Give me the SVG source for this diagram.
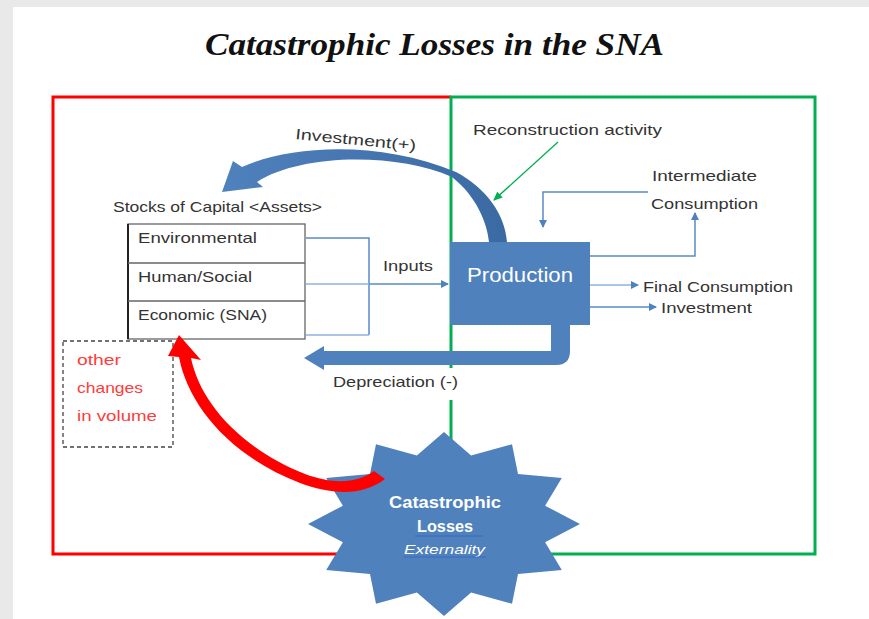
<svg xmlns="http://www.w3.org/2000/svg" width="869" height="619" viewBox="0 0 869 619">
<style>
.lbl{font-family:"Liberation Sans",Arial,sans-serif;font-size:15px;fill:#333}
.red{fill:#ff3b3b}
.wt{fill:#fff;font-family:"Liberation Sans",Arial,sans-serif}
.thin{fill:none;stroke:#5b8bc8;stroke-width:1.5}
.lite{fill:none;stroke:#8db3e2;stroke-width:1.5}
</style>
<defs>
<marker id="ab" markerWidth="8" markerHeight="8" refX="7" refY="4" orient="auto" markerUnits="userSpaceOnUse"><path d="M0,0 L8,4 L0,8 Z" fill="#4f81bd"/></marker>
<marker id="ag" markerWidth="9" markerHeight="8" refX="8" refY="4" orient="auto" markerUnits="userSpaceOnUse"><path d="M0,0 L9,4 L0,8 Z" fill="#00b050"/></marker>
<linearGradient id="ig" x1="0" y1="0" x2="1" y2="0"><stop offset="0" stop-color="#4f81bd"/><stop offset="1" stop-color="#3b6aa3"/></linearGradient>
</defs>
<rect width="869" height="619" fill="#e9e9e9"/>
<rect x="13" y="7" width="856" height="612" fill="#fff"/>
<text x="205" y="55" font-family="'Liberation Serif',serif" font-size="32" font-weight="bold" font-style="italic" fill="#111" textLength="459" lengthAdjust="spacingAndGlyphs">Catastrophic Losses in the SNA</text>

<g id="frames">
<path d="M451,97 H53 V554 H451" fill="none" stroke="#ff0000" stroke-width="3"/>
<rect x="451" y="97" width="364" height="457" fill="none" stroke="#00b050" stroke-width="3"/>
</g>

<g id="stocks">
<text class="lbl" x="113" y="212" textLength="209" lengthAdjust="spacingAndGlyphs">Stocks of Capital &lt;Assets&gt;</text>
<rect x="128" y="224" width="177" height="115" fill="#fff" stroke="#666" stroke-width="1.3"/>
<line x1="128" y1="224" x2="128" y2="339" stroke="#222" stroke-width="2"/>
<line x1="128" y1="263" x2="305" y2="263" stroke="#666" stroke-width="1.3"/>
<line x1="128" y1="301" x2="305" y2="301" stroke="#666" stroke-width="1.3"/>
<text class="lbl" x="138" y="243" textLength="119" lengthAdjust="spacingAndGlyphs">Environmental</text>
<text class="lbl" x="138" y="282" textLength="114" lengthAdjust="spacingAndGlyphs">Human/Social</text>
<text class="lbl" x="138" y="320" textLength="129" lengthAdjust="spacingAndGlyphs">Economic (SNA)</text>
</g>

<g id="other-changes">
<rect x="63" y="341" width="110" height="106" fill="none" stroke="#444" stroke-width="1.3" stroke-dasharray="4,3"/>
<text class="lbl red" x="77" y="365" textLength="44" lengthAdjust="spacingAndGlyphs">other</text>
<text class="lbl red" x="77" y="393" textLength="66" lengthAdjust="spacingAndGlyphs">changes</text>
<text class="lbl red" x="77" y="421" textLength="80" lengthAdjust="spacingAndGlyphs">in volume</text>
</g>

<g id="connectors">
<path class="thin" d="M306,238 H369 V335"/>
<path class="lite" d="M306,284 H369"/>
<path class="lite" d="M306,335 H369"/>
<path class="thin" d="M369,284 H448" marker-end="url(#ab)"/>
<path class="thin" d="M590,256 H695 V213" marker-end="url(#ab)"/>
<path class="thin" d="M648,192 H543 V227" marker-end="url(#ab)"/>
<path class="lite" d="M560,285 H638" marker-end="url(#ab)"/>
<path class="thin" d="M560,307 H656" marker-end="url(#ab)"/>
<path d="M558,142 L494,200" fill="none" stroke="#00b050" stroke-width="1.3" marker-end="url(#ag)"/>
<path d="M222,192 L233,161 L242,167 C290,145 380,140 456,172 C486,188 505,214 507,242 L489,242 C487,222 476,196 452,177 C395,152 300,154 257,182 L263,187 Z" fill="url(#ig)"/>
<rect x="330" y="368" width="132" height="32" fill="#fff"/>
<path d="M551,325 L570,325 L570,351 Q570,365 556,365 L324,365 L324,370 L304,358 L324,346 L324,351 L551,351 Z" fill="#4f81bd"/>
</g>

<g id="labels">
<text class="lbl" x="295" y="139" transform="rotate(5.5 295 139)" font-size="16" textLength="121" lengthAdjust="spacingAndGlyphs">Investment(+)</text>
<text class="lbl" x="473" y="135" textLength="189" lengthAdjust="spacingAndGlyphs">Reconstruction activity</text>
<text class="lbl" x="652" y="181" textLength="105" lengthAdjust="spacingAndGlyphs">Intermediate</text>
<text class="lbl" x="651" y="209" textLength="107" lengthAdjust="spacingAndGlyphs">Consumption</text>
<text class="lbl" x="643" y="292" textLength="150" lengthAdjust="spacingAndGlyphs">Final Consumption</text>
<text class="lbl" x="661" y="313" textLength="91" lengthAdjust="spacingAndGlyphs">Investment</text>
<text class="lbl" x="383" y="271" textLength="50" lengthAdjust="spacingAndGlyphs">Inputs</text>
<text class="lbl" x="333" y="387" textLength="125" lengthAdjust="spacingAndGlyphs">Depreciation (-)</text>
</g>

<g id="production">
<rect x="450" y="242" width="140" height="83" fill="#4f81bd"/>
<text class="wt" x="467" y="282" font-size="20" textLength="106" lengthAdjust="spacingAndGlyphs">Production</text>
</g>

<g id="catastrophic-losses">
<polygon fill="#4f81bd" points="444,432 471.1,455.6 512,444.3 518,473.9 561.8,478 545.1,505.7 580,524 545.1,542.3 561.8,570 518,574.1 512,603.7 471.1,592.4 444,616 416.9,592.4 376,603.7 370,574.1 326.2,570 342.9,542.3 308,524 342.9,505.7 326.2,478 370,473.9 376,444.3 416.9,455.6"/>
<text class="wt" x="389" y="508" font-size="16" font-weight="bold" textLength="112" lengthAdjust="spacingAndGlyphs">Catastrophic</text>
<text class="wt" x="417" y="532" font-size="16" font-weight="bold" textLength="56" lengthAdjust="spacingAndGlyphs">Losses</text>
<line x1="415" y1="536" x2="483" y2="536" stroke="#3a66c4" stroke-width="1.2"/>
<text class="wt" x="404" y="554" font-size="13" font-style="italic" textLength="81" lengthAdjust="spacingAndGlyphs">Externality</text>
<line x1="404" y1="557" x2="486" y2="557" stroke="#3a66c4" stroke-width="1.2"/>
</g>

<g id="red-arrow">
<path d="M179,335 L201,360 L191,358 C200,402 240,448 305,474 C332,484 356,484 374,471 L385,479 C362,497 330,494 300,483 C230,456 188,405 179,357 L168,356 Z" fill="#ff0000"/>
</g>
</svg>
